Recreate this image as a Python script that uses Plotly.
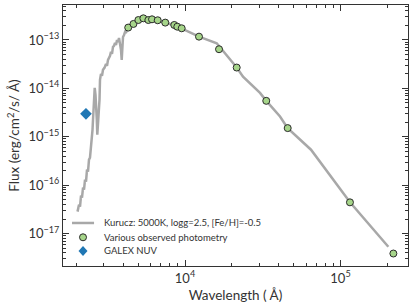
import plotly.graph_objects as go

# Kurucz model spectrum (Angstrom, erg/cm^2/s/A)
model_wave = [2036, 2081, 2113, 2144, 2176, 2209, 2242, 2275, 2309, 2343, 2378, 2413,
              2449, 2486, 2523, 2542, 2561, 2598, 2626, 2657, 2677, 2709, 2729, 2757,
              2798, 2819, 2840, 2882, 2925, 2969, 3035, 3105, 3151, 3198, 3294, 3343,
              3393, 3443, 3495, 3547, 3600, 3654, 3708, 3764, 3819, 3876, 3917, 3952,
              3993, 4053, 4113, 4174, 4236, 4364, 4630, 4985, 5370, 5782, 6414, 7436,
              8625, 10000, 12303, 15995, 21504, 23605, 30360, 33330, 40830, 45750,
              64600, 115100, 203000]
model_flux = [2.84e-17, 3.96e-17, 3.60e-17, 6.08e-17, 5.52e-17, 8.88e-17, 8.07e-17,
              1.30e-16, 1.18e-16, 2.09e-16, 1.90e-16, 3.36e-16, 3.69e-16, 5.93e-16,
              8.67e-16, 1.39e-15, 2.24e-15, 5.79e-15, 1.02e-14, 7.34e-15, 2.84e-15,
              2.24e-15, 1.10e-15, 1.77e-15, 3.60e-15, 5.79e-15, 1.50e-14, 1.99e-14,
              1.81e-14, 2.41e-14, 2.65e-14, 3.20e-14, 2.91e-14, 3.87e-14, 4.68e-14,
              5.66e-14, 5.14e-14, 7.17e-14, 7.52e-14, 8.67e-14, 7.88e-14, 1.00e-13,
              9.09e-14, 1.10e-13, 8.28e-14, 6.22e-14, 3.87e-14, 7.88e-14, 1.15e-13,
              1.27e-13, 1.46e-13, 1.39e-13, 1.69e-13, 1.85e-13, 2.19e-13, 2.58e-13,
              2.77e-13, 2.65e-13, 2.58e-13, 2.30e-13, 1.99e-13, 1.61e-13, 1.17e-13,
              8.55e-14, 2.69e-14, 1.75e-14, 8.07e-15, 5.52e-15, 2.62e-15, 1.51e-15,
              5.40e-16, 4.42e-17, 5.34e-18]

# Observed photometry
phot_wave = [4313, 4660, 5012, 5400, 5810, 6135, 6675, 7465, 8530, 8920, 9520,
             12300, 16550, 21500, 33300, 45750, 115000, 218800]
phot_flux = [1.80e-13, 2.14e-13, 2.58e-13, 2.80e-13, 2.58e-13, 2.67e-13, 2.55e-13,
             2.28e-13, 2.04e-13, 1.88e-13, 1.74e-13, 1.17e-13, 6.43e-14, 2.69e-14,
             5.52e-15, 1.51e-15, 4.42e-17, 3.87e-18]

# GALEX NUV
galex_wave = [2307]
galex_flux = [2.98e-15]

legend_labels = ["Kurucz: 5000K, logg=2.5, [Fe/H]=-0.5",
                 "Various observed photometry",
                 "GALEX NUV"]

x_tickvals = [1e4, 1e5]
x_ticktext = ["10<sup>4</sup>", "10<sup>5</sup>"]
y_tickvals = [1e-17, 1e-16, 1e-15, 1e-14, 1e-13]
y_ticktext = ["10<sup>−17</sup>", "10<sup>−16</sup>", "10<sup>−15</sup>",
              "10<sup>−14</sup>", "10<sup>−13</sup>"]
mantissas = [2, 3, 4, 5, 6, 7, 8, 9]
x_minor = [m * 10 ** e for e in (3, 4, 5) for m in mantissas]
y_minor = [m * 10.0 ** e for e in (-18, -17, -16, -15, -14, -13) for m in mantissas]

FONT = "Lato"
TXT = "#333333"
LINE_C = "#a8a8a8"
GREEN = "#a6d58a"
BLUE = "#2077b4"

fig = go.Figure()
fig.add_trace(go.Scatter(
    x=model_wave, y=model_flux, mode="lines",
    line=dict(color=LINE_C, width=2.5), name=legend_labels[0]))
fig.add_trace(go.Scatter(
    x=phot_wave, y=phot_flux, mode="markers",
    marker=dict(color=GREEN, size=7, line=dict(color="#2b2b2b", width=1)),
    name=legend_labels[1]))
fig.add_trace(go.Scatter(
    x=galex_wave, y=galex_flux, mode="markers",
    marker=dict(color=BLUE, size=9, symbol="diamond", line=dict(width=0)),
    name=legend_labels[2]))

axis_common = dict(
    type="log", showgrid=False, zeroline=False, showline=True, automargin=False,
    linecolor="#333333", linewidth=1, mirror="allticks",
    ticks="inside", ticklen=6, tickcolor="#333333", tickwidth=1,
    tickfont=dict(family=FONT, size=13, color=TXT),
)

fig.update_layout(
    width=415, height=308,
    margin=dict(l=63, r=7, t=5, b=42),
    paper_bgcolor="white", plot_bgcolor="white",
    font=dict(family=FONT, color=TXT),
    showlegend=False,
    xaxis=dict(axis_common, range=[3.2154, 5.434],
               tickmode="array", tickvals=x_tickvals, ticktext=x_ticktext,
               minor=dict(tickmode="array", tickvals=x_minor, ticks="inside",
                          ticklen=3, tickcolor="#333333", tickwidth=1, showgrid=False),
               title=dict(text="Wavelength ( Å)", font=dict(family=FONT, size=13.5),
                          standoff=5)),
    yaxis=dict(axis_common, range=[-17.67, -12.278],
               tickmode="array", tickvals=y_tickvals, ticktext=y_ticktext,
               minor=dict(tickmode="array", tickvals=y_minor, ticks="inside",
                          ticklen=3, tickcolor="#333333", tickwidth=1, showgrid=False),
               title=dict(text="Flux (erg/cm<sup>2</sup>/s/ Å)", font=dict(family=FONT, size=13.5),
                          standoff=5)),
)

# manual legend (matplotlib-style compact spacing)
rows = [0.1648, 0.110, 0.0575]
fig.add_shape(type="line", xref="paper", yref="paper",
              x0=0.026, x1=0.090, y0=rows[0], y1=rows[0],
              line=dict(color=LINE_C, width=2.5))
fig.add_shape(type="circle", xref="paper", yref="paper",
              xsizemode="pixel", ysizemode="pixel", xanchor=0.058, yanchor=rows[1],
              x0=-3.5, x1=3.5, y0=-3.5, y1=3.5,
              fillcolor=GREEN, line=dict(color="#2b2b2b", width=1))
fig.add_shape(type="path", xref="paper", yref="paper",
              xsizemode="pixel", ysizemode="pixel", xanchor=0.058, yanchor=rows[2],
              path="M 0 -5 L 4.5 0 L 0 5 L -4.5 0 Z",
              fillcolor=BLUE, line=dict(width=0))
for lab, yy in zip(legend_labels, rows):
    fig.add_annotation(text=lab, xref="paper", yref="paper", x=0.113, y=yy,
                       xanchor="left", yanchor="middle", showarrow=False,
                       font=dict(family=FONT, size=9.5, color=TXT))

fig.write_html("out.html", config={"displayModeBar": False},
               post_script="document.body.style.margin='0';document.body.style.padding='0';")
